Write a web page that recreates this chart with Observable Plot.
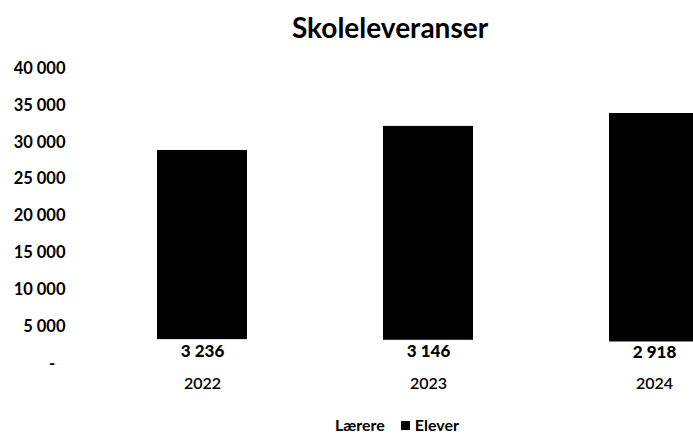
<!DOCTYPE html>
<html>
<head>
<meta charset="utf-8">
<script src="https://cdn.jsdelivr.net/npm/d3@7"></script>
<script src="https://cdn.jsdelivr.net/npm/@observablehq/plot@0.6"></script>
<style>
  html, body { margin: 0; padding: 0; background: #fff; overflow: hidden; width: 693px; height: 442px; }
  #wrap { width: 780px; font-family: Lato, "Open Sans", sans-serif; color: #000; }
  #title { height: 50px; line-height: 54px; text-align: center; font-size: 28px; font-weight: 700; }
  #legend { height: 30px; line-height: 30px; text-align: center; font-size: 16px; font-weight: 700; }
  .sw { display: inline-block; width: 9px; height: 9px; margin-right: 5px; vertical-align: 1px; }
  .item { margin: 0 8px; }
  svg { display: block; }
</style>
</head>
<body>
<div id="wrap">
  <div id="title">Skoleleveranser</div>
  <div id="chart"></div>
  <div id="legend"></div>
</div>
<script>
const years = ["2022", "2023", "2024"];
const series = ["Lærere", "Elever"];
const laerere = [3236, 3146, 2918];
const elever = [25650, 29000, 30980];
const yTicks = [0, 5000, 10000, 15000, 20000, 25000, 30000, 35000, 40000];
const colors = ["#ffffff", "#000000"];

const rows = [];
years.forEach((y, i) => {
  rows.push({year: y, serie: series[0], value: laerere[i]});
  rows.push({year: y, serie: series[1], value: elever[i]});
});
const lrows = rows.filter(d => d.serie === series[0]);

const fmt = v => d3.format(",")(v).replace(/,/g, " ");

const chart = Plot.plot({
  width: 780,
  height: 360,
  marginTop: 18,
  marginBottom: 47,
  marginLeft: 89,
  marginRight: 13,
  style: {fontFamily: "Lato, 'Open Sans', sans-serif", color: "#000", background: "#fff"},
  x: {domain: years, paddingInner: 0.6, paddingOuter: 0.3, axis: null},
  y: {domain: [0, 40000], axis: null},
  color: {domain: series, range: colors},
  marks: [
    Plot.barY(rows, {x: "year", y: "value", fill: "serie", order: series}),
    Plot.axisY({ticks: yTicks, tickSize: 0, tickPadding: 24, fontSize: 16.5, fontWeight: 700, label: null,
      tickFormat: d => d === 0 ? "-\u2002\u2009" : fmt(d)}),
    Plot.text(lrows, {x: "year", y: d => d.value / 2, text: d => fmt(d.value), fontSize: 17, fontWeight: 900}),
    Plot.text(years, {x: d => d, frameAnchor: "bottom", dy: 25, text: d => d, fontSize: 16, fontWeight: 600})
  ]
});
document.getElementById("chart").appendChild(chart);

const leg = document.getElementById("legend");
series.forEach((s, i) => {
  const it = document.createElement("span");
  it.className = "item";
  const sw = document.createElement("span");
  sw.className = "sw";
  sw.style.background = colors[i];
  it.appendChild(sw);
  it.appendChild(document.createTextNode(s));
  leg.appendChild(it);
});
</script>
</body>
</html>
